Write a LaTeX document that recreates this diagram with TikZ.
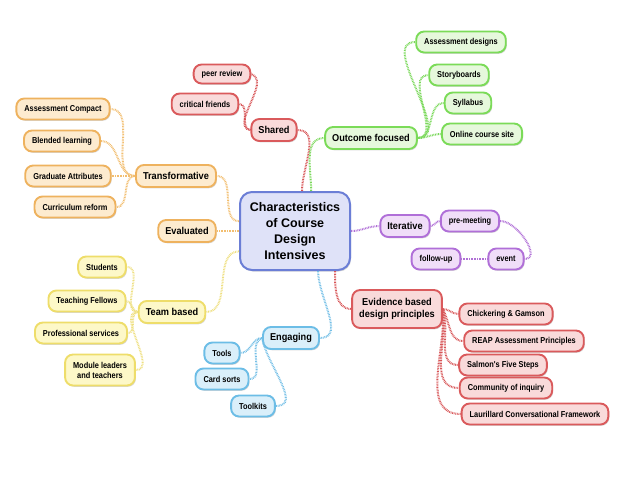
\documentclass[tikz,border=0pt]{standalone}
\usepackage{fontspec}
\setmainfont{Liberation Sans}
\newfontfamily\narrowfont[FakeStretch=0.86]{Liberation Sans}
\newfontfamily\midfont[FakeStretch=0.92]{Liberation Sans}
\usetikzlibrary{shadows}
\definecolor{oB}{HTML}{EEB25E}\definecolor{oF}{HTML}{FDEBCF}\definecolor{oL}{HTML}{F2BE70}
\definecolor{yB}{HTML}{EEDD6A}\definecolor{yF}{HTML}{FDF8C8}\definecolor{yL}{HTML}{EEDF80}
\definecolor{bB}{HTML}{6CBDE6}\definecolor{bF}{HTML}{DAEFFA}\definecolor{bL}{HTML}{74BFE6}
\definecolor{gB}{HTML}{7BDB58}\definecolor{gF}{HTML}{E6F8DC}\definecolor{gL}{HTML}{7AD85A}
\definecolor{pB}{HTML}{B06FD8}\definecolor{pF}{HTML}{F0DEF8}\definecolor{pL}{HTML}{B070D6}
\definecolor{rB}{HTML}{DA5A5C}\definecolor{rF}{HTML}{F9DADA}\definecolor{rL}{HTML}{D75557}
\definecolor{cB}{HTML}{6B7ED6}\definecolor{cF}{HTML}{DFE2F8}
\tikzset{
  pill/.style={draw, line width=1.9pt, rounded corners=8pt, inner xsep=8pt, inner ysep=0pt,
    minimum height=21pt, align=center,
    font=\narrowfont\fontsize{8.6}{10}\selectfont\bfseries,
    drop shadow={shadow xshift=1pt, shadow yshift=-1.3pt, fill=black!35, opacity=0.45}},
  mainpill/.style={pill, minimum height=22pt, inner xsep=7pt, font=\midfont\fontsize{10}{12}\selectfont\bfseries},
  orangebox/.style={draw=oB, fill=oF},
  yellowbox/.style={draw=yB, fill=yF},
  bluebox/.style={draw=bB, fill=bF},
  greenbox/.style={draw=gB, fill=gF},
  purplebox/.style={draw=pB, fill=pF},
  redbox/.style={draw=rB, fill=rF},
  link/.style={line width=2pt, dash pattern=on 0.8pt off 0.8pt},
}
\begin{document}
\begin{tikzpicture}[x=1pt,y=-1pt]
\useasboundingbox (0,0) rectangle (638,479);
% central
\node[draw=cB, fill=cF, line width=2pt, rounded corners=12pt, minimum width=110pt, minimum height=78pt,
  align=center, font=\fontsize{12.5}{16}\selectfont\bfseries,
  drop shadow={shadow xshift=1pt, shadow yshift=-1.5pt, fill=black!35, opacity=0.45}]
  (central) at (295,231) {Characteristics\\of Course\\Design\\Intensives};
% orange
\node[mainpill, orangebox] (transf) at (176,176) {Transformative};
\node[mainpill, orangebox] (evald) at (187,231) {Evaluated};
\node[pill, orangebox] (ac) at (63,109) {Assessment Compact};
\node[pill, orangebox] (bl) at (62,141) {Blended learning};
\node[pill, orangebox] (ga) at (68,176) {Graduate Attributes};
\node[pill, orangebox] (cr) at (75,207) {Curriculum reform};
% yellow
\node[mainpill, yellowbox] (team) at (172,312) {Team based};
\node[pill, yellowbox] (stu) at (102,267) {Students};
\node[pill, yellowbox] (tf) at (87,301) {Teaching Fellows};
\node[pill, yellowbox] (ps) at (81,333) {Professional services};
\node[pill, yellowbox, minimum height=31pt] (ml) at (100,370) {Module leaders\\and teachers};
% blue
\node[mainpill, bluebox] (eng) at (291,338) {Engaging};
\node[pill, bluebox] (tools) at (222,353) {Tools};
\node[pill, bluebox] (cards) at (222,379) {Card sorts};
\node[pill, bluebox] (kits) at (253,406) {Toolkits};
% red
\node[mainpill, redbox] (shared) at (274,130) {Shared};
\node[pill, redbox, minimum height=19pt] (peer) at (222,74) {peer review};
\node[pill, redbox] (crit) at (205,104) {critical friends};
\node[mainpill, redbox, minimum height=38pt, font=\midfont\fontsize{10}{12.5}\selectfont\bfseries] (evid) at (397,309) {Evidence based\\design principles};
\node[pill, redbox] (cg) at (506,314) {Chickering \& Gamson};
\node[pill, redbox] (reap) at (524,341) {REAP Assessment Principles};
\node[pill, redbox] (sal) at (503,365) {Salmon's Five Steps};
\node[pill, redbox] (coi) at (506,388) {Community of inquiry};
\node[pill, redbox] (lcf) at (535,414) {Laurillard Conversational Framework};
% green
\node[mainpill, greenbox] (out) at (371,138) {Outcome focused};
\node[pill, greenbox] (ad) at (461,42) {Assessment designs};
\node[pill, greenbox] (sb) at (459,75) {Storyboards};
\node[pill, greenbox] (syl) at (468,103) {Syllabus};
\node[pill, greenbox] (ocs) at (482,134) {Online course site};
% purple
\node[mainpill, purplebox] (iter) at (405,226) {Iterative};
\node[pill, purplebox] (pre) at (470,221) {pre-meeting};
\node[pill, purplebox] (ev) at (506,259) {event};
\node[pill, purplebox] (fu) at (436,259) {follow-up};
% links
\draw[link, oL] (central.170) to[out=180,in=0] (transf.east);
\draw[link, oL] (central.west) -- (evald.east);
\draw[link, oL] (transf.west) to[out=180,in=0] (ac.east);
\draw[link, oL] (transf.west) to[out=180,in=0] (bl.east);
\draw[link, oL] (transf.west) -- (ga.east);
\draw[link, oL] (transf.west) to[out=180,in=0] (cr.east);
\draw[link, yL] (central.200) to[out=180,in=0] (team.east);
\draw[link, yL] (team.west) to[out=180,in=0] (stu.east);
\draw[link, yL] (team.west) to[out=180,in=0] (tf.east);
\draw[link, yL] (team.west) to[out=180,in=0] (ps.east);
\draw[link, yL] (team.west) to[out=180,in=0] (ml.east);
\draw[link, bL] (central.-60) to[out=-90,in=0] (eng.east);
\draw[link, bL] (eng.west) to[out=180,in=0] (tools.east);
\draw[link, bL] (eng.west) to[out=200,in=0] (cards.east);
\draw[link, bL] (eng.west) to[out=-80,in=0] (kits.east);
\draw[link, rL] (central.80) to[out=90,in=0] (shared.east);
\draw[link, rL] (shared.west) to[out=170,in=-20] (peer.east);
\draw[link, rL] (shared.west) to[out=180,in=0] (crit.east);
\draw[link, rL] (central.-45) to[out=-90,in=180] (evid.west);
\draw[link, rL] (evid.east) to[out=0,in=180] (cg.west);
\draw[link, rL] (evid.east) to[out=-60,in=180] (reap.west);
\draw[link, rL] (evid.east) to[out=-70,in=180] (sal.west);
\draw[link, rL] (evid.east) to[out=-80,in=180] (coi.west);
\draw[link, rL] (evid.east) to[out=-85,in=180] (lcf.west);
\draw[link, gL] (central.68) to[out=90,in=180] (out.west);
\draw[link, gL] (out.east) to[out=0,in=180] (ad.west);
\draw[link, gL] (out.east) to[out=0,in=180] (sb.west);
\draw[link, gL] (out.east) to[out=0,in=180] (syl.west);
\draw[link, gL] (out.east) to[out=0,in=180] (ocs.west);
\draw[link, pL] (central.east) to[out=0,in=180] (iter.west);
\draw[link, pL] (iter.east) to[out=0,in=180] (pre.west);
\draw[link, pL] (pre.east) to[out=0,in=0] (ev.east);
\draw[link, pL] (ev.west) -- (fu.east);
\end{tikzpicture}
\end{document}
